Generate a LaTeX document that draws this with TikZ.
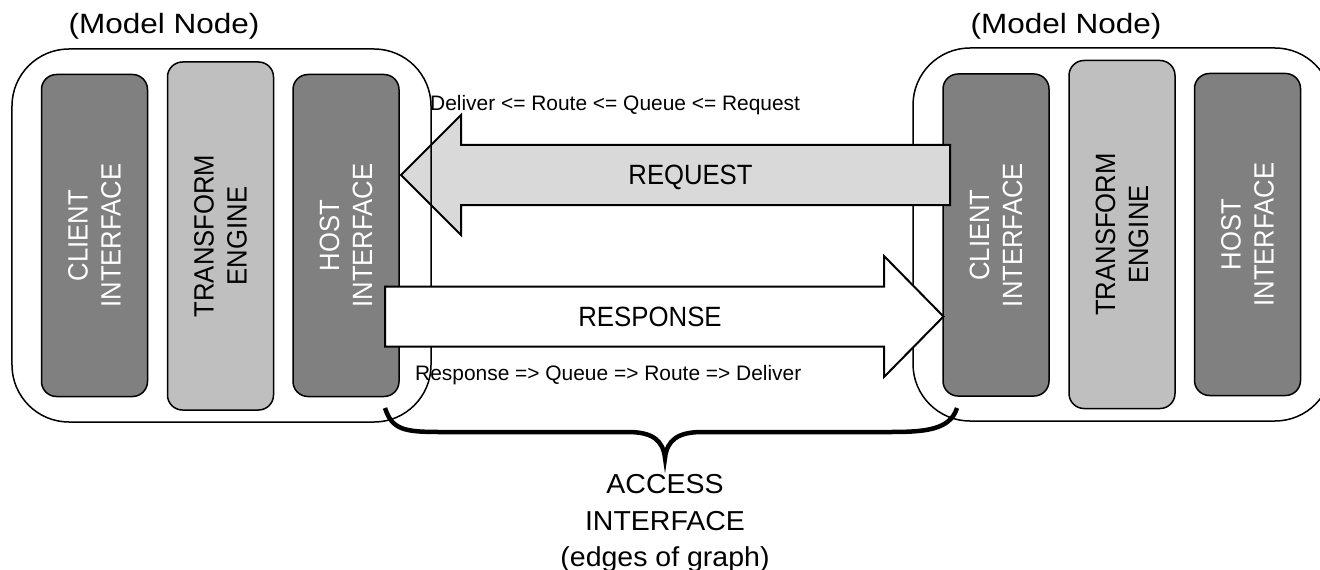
\documentclass[tikz,border=0pt]{standalone}
\usepackage{fontspec}
\setmainfont{Liberation Sans}
\definecolor{ifacegray}{RGB}{128,128,128}
\definecolor{enginegray}{RGB}{191,191,191}
\definecolor{requestgray}{RGB}{217,217,217}
% horizontal squeeze/stretch of a piece of text
\newcommand\squeeze[2]{\scalebox{#1}[1]{#2}}
\begin{document}
\begin{tikzpicture}[x=1bp,y=-1bp,
  nodeframe/.style={draw=black, line width=1.5bp, rounded corners=57bp,
    minimum width=419bp, minimum height=373bp, inner sep=0pt},
  ifacebox/.style={draw=black, line width=1.5bp, fill=ifacegray, rounded corners=15bp,
    minimum width=106bp, minimum height=322bp, inner sep=0pt},
  enginebox/.style={draw=black, line width=1.5bp, fill=enginegray, rounded corners=15bp,
    minimum width=106bp, minimum height=348bp, inner sep=0pt},
  ifacelabel/.style={rotate=90, align=center, text=white,
    font=\fontsize{28}{33}\selectfont, inner sep=0pt},
  enginelabel/.style={ifacelabel, text=black},
  flow/.style={draw=black, line width=2bp, line join=miter},
  flowlabel/.style={anchor=base, font=\fontsize{28}{33}\selectfont, inner sep=0pt},
  steplabel/.style={anchor=base west, font=\fontsize{21}{25}\selectfont, inner sep=0pt},
  titlelabel/.style={anchor=base, font=\fontsize{28}{32}\selectfont, inner sep=0pt},
  bracelabel/.style={anchor=base, font=\fontsize{27.5}{33}\selectfont, inner sep=0pt}
]
\useasboundingbox (0,0) rectangle (1320,570);

% right model node: frame and its three blocks
\node[nodeframe] (rframe) at (1122.5,234.5) {};
\node[ifacebox]  (rclient) at (996,235) {};
\node[enginebox] (rengine) at (1122,234.5) {};
\node[ifacebox]  (rhost) at (1247.5,234.5) {};

% left model node: three blocks
\node[ifacebox]  (lclient) at (94.5,235.5) {};
\node[enginebox] (lengine) at (220.5,236) {};
\node[ifacebox]  (lhost) at (346,235.5) {};

% request arrow (right to left)
\draw[flow, fill=requestgray] (950,145) -- (461,145) -- (461,115) -- (401,175)
  -- (461,235) -- (461,205) -- (950,205) -- cycle;

% left frame
\node[nodeframe] (lframe) at (221.5,235.5) {};

% response arrow (left to right)
\draw[flow, fill=white] (385,286.5) -- (884,286.5) -- (884,256) -- (943.5,316.5)
  -- (884,377) -- (884,346.5) -- (385,346.5) -- cycle;

% block labels
\node[ifacelabel]  at (lclient) {\squeeze{0.92}{CLIENT}\\\squeeze{0.92}{INTERFACE}};
\node[enginelabel] at (lengine) {\squeeze{0.92}{TRANSFORM}\\\squeeze{0.92}{ENGINE}};
\node[ifacelabel]  at (lhost)   {\squeeze{0.92}{HOST}\\\squeeze{0.92}{INTERFACE}};
\node[ifacelabel]  at (rclient) {\squeeze{0.92}{CLIENT}\\\squeeze{0.92}{INTERFACE}};
\node[enginelabel] at (rengine) {\squeeze{0.92}{TRANSFORM}\\\squeeze{0.92}{ENGINE}};
\node[ifacelabel]  at (rhost)   {\squeeze{0.92}{HOST}\\\squeeze{0.92}{INTERFACE}};

% titles
\node[titlelabel] (ltitle) at (164,33.5) {\squeeze{1.13}{(Model Node)}};
\node[titlelabel] (rtitle) at (1066,33.5) {\squeeze{1.13}{(Model Node)}};

% arrow labels
\node[flowlabel] (reqlabel) at (690.5,185) {\squeeze{0.92}{REQUEST}};
\node[flowlabel] (reslabel) at (650,326) {\squeeze{0.925}{RESPONSE}};
\node[steplabel] (reqsteps) at (430,111) {Deliver <= Route <= Queue <= Request};
\node[steplabel] (ressteps) at (415,380) {Response => Queue => Route => Deliver};

% brace under the access interface
\coordinate (bleft) at (385,408);
\coordinate (bright) at (957,408);
\coordinate (btip) at (665,458);
\draw[line width=4.5bp] (bleft) .. controls (392,430) and (405,432) .. (440,432)
  -- (628,432) .. controls (652,432) and (663,440) .. (btip)
  .. controls (667,440) and (678,432) .. (702,432)
  -- (890,432) .. controls (925,432) and (950,430) .. (bright);

\node[bracelabel] (acc1) at (665,493) {\squeeze{1.04}{ACCESS}};
\node[bracelabel] (acc2) at (665,530) {\squeeze{1.04}{INTERFACE}};
\node[bracelabel] (acc3) at (665,566) {\squeeze{1.04}{(edges of graph)}};
\end{tikzpicture}
\end{document}
